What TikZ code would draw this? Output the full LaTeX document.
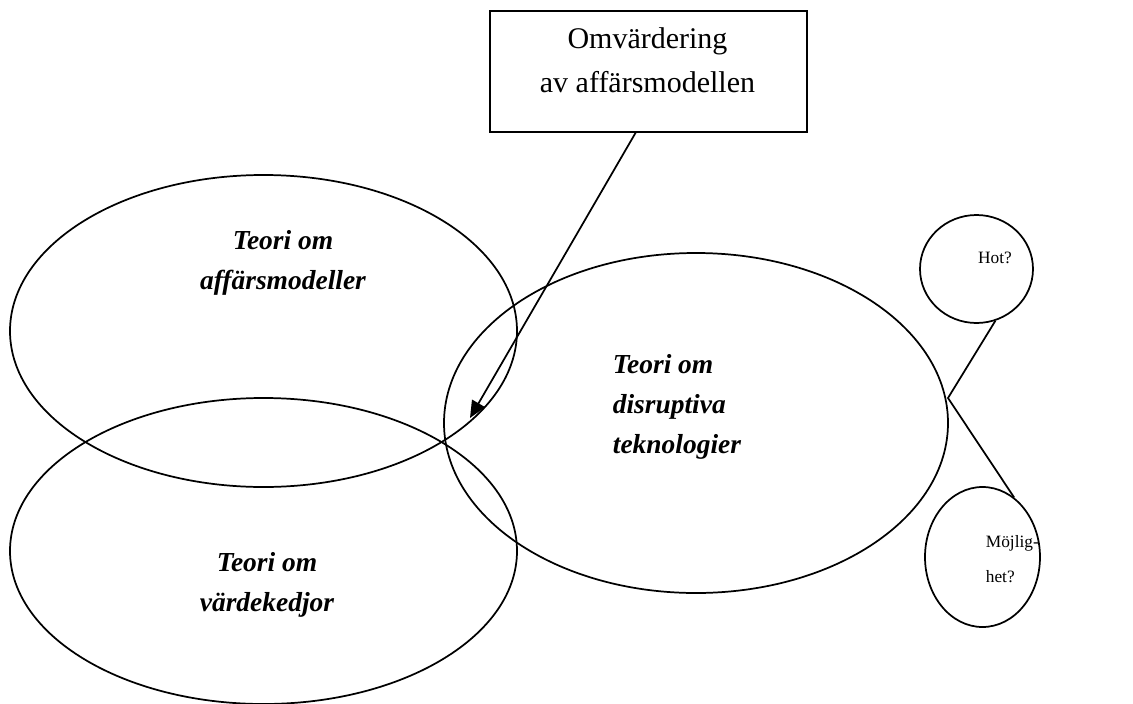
\documentclass[tikz,border=0pt]{standalone}
\usepackage{fontspec}
\setmainfont{Liberation Serif}
\usetikzlibrary{shapes.geometric,arrows.meta,calc}
\begin{document}
\begin{tikzpicture}[x=0.75pt,y=-0.75pt,
  line width=1.3pt,
  theory/.style={draw, ellipse, inner sep=0pt},
  theorylabel/.style={font=\fontsize{20.6pt}{30pt}\selectfont\bfseries\itshape, inner sep=0pt},
  boxtext/.style={font=\fontsize{22.5pt}{33pt}\selectfont, align=center, inner sep=0pt},
  smalllabel/.style={font=\fontsize{13pt}{26pt}\selectfont, inner sep=0pt},
]
\useasboundingbox (0,0) rectangle (1133,704);

% the three theory areas
\node[theory, minimum width=380.25pt, minimum height=234pt] (business) at (263.5,331) {};
\node[theory, minimum width=380.25pt, minimum height=229.5pt] (value) at (263.5,551) {};
\node[theory, minimum width=378pt, minimum height=255pt] (disrupt) at (696,423) {};

\node[theorylabel, align=center] (businesslabel) at (283,263) {Teori om\\affärsmodeller};
\node[theorylabel, align=center] (valuelabel) at (267,585) {Teori om\\värdekedjor};
\node[theorylabel, align=left, anchor=west] (disruptlabel) at (612,407) {Teori om\\disruptiva\\teknologier};

% threat / opportunity
\node[theory, minimum width=84.75pt, minimum height=81pt] (hot) at (976.5,269) {};
\node[theory, minimum width=86.25pt, minimum height=105pt] (mojl) at (982.5,557) {};
\node[smalllabel] (hotlabel) at (995,258) {Hot?};
\node[smalllabel, align=left, anchor=west] (mojllabel) at (985,559) {Möjlig-\\het?};

\coordinate (fork) at (948,398);
\draw (hot.290) -- (fork) -- (mojl.62);

% re-evaluation box and its arrow
\node[draw, minimum width=237.75pt, minimum height=90.75pt, inner sep=0pt, anchor=north west] (box) at (489,10) {};
\node[boxtext] (boxlabel) at (647.5,60) {Omvärdering\\av affärsmodellen};

\coordinate (arrowstart) at ($(box.south west)!0.46!(box.south east)$);
\coordinate (arrowtip) at (470,418);
\draw[-{Triangle[length=12.75pt,width=11pt]}] (arrowstart) -- (arrowtip);
\end{tikzpicture}
\end{document}
